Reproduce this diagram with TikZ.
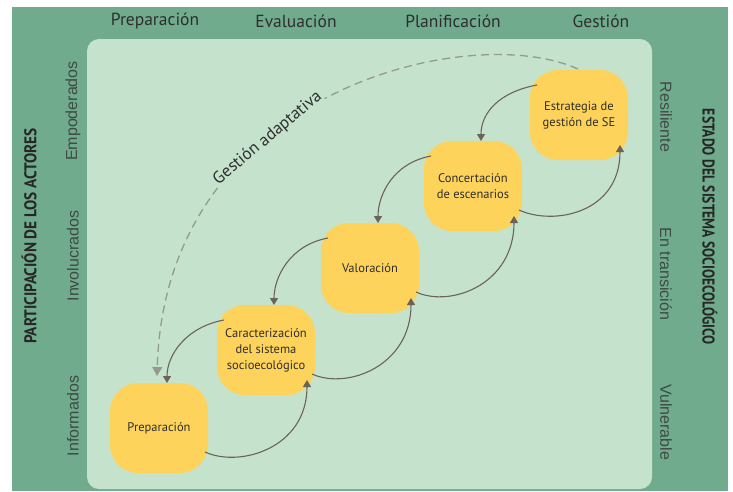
\documentclass[tikz,border=0pt]{standalone}
\usepackage{fontspec}
\setmainfont{PT Sans}
\newfontfamily\sidefont{Liberation Sans}
\usetikzlibrary{arrows.meta,calc}
\definecolor{framec}{HTML}{6FAB8C}
\definecolor{panelc}{HTML}{C5E3CC}
\definecolor{yellowc}{HTML}{FED35B}
\definecolor{arrowc}{HTML}{6B6357}
\definecolor{txtc}{HTML}{2E2E2E}
\definecolor{sidec}{HTML}{3E4A44}
\definecolor{dashc}{HTML}{929B8D}
\begin{document}
\begin{tikzpicture}[x=1pt,y=-1pt,
  stage/.style={fill=yellowc, rounded corners=28pt, minimum width=98pt, minimum height=90pt,
    align=center, font=\fontsize{12.5}{16}\selectfont, text=txtc, inner sep=2pt},
  flow/.style={draw=arrowc, line width=1.1pt, -{Triangle[width=8pt,length=7pt]}},
  adapt/.style={draw=dashc, line width=1.3pt, dash pattern=on 8pt off 5pt,
    -{Triangle[width=10pt,length=9pt,fill=dashc]}},
  toplab/.style={font=\fontsize{17.5}{20}\selectfont, text=txtc},
  sidelab/.style={font=\sidefont\fontsize{16}{19}\selectfont, text=sidec},
  headlab/.style={font=\bfseries\fontsize{17}{20}\selectfont, text=black!85},
]
\useasboundingbox (0,0) rectangle (733,491);
\fill[white] (0,0) rectangle (733,491);
\fill[framec] (12,7) rectangle (728,491);
\fill[panelc, rounded corners=12pt] (87,39) rectangle (652,489);

% top labels
\node[toplab] (tprep) at (155,21) {Preparación};
\node[toplab] (teval) at (296,21) {Evaluación};
\node[toplab] (tplan) at (453,21) {Planificación};
\node[toplab] (tgest) at (601,21) {Gestión};

% left labels
\node[headlab, rotate=90] (hpart) at (29,236) {\scalebox{0.9}[1]{PARTICIPACIÓN DE LOS ACTORES}};
\node[sidelab, rotate=90] (emp) at (73,111) {Empoderados};
\node[sidelab, rotate=90] (inv) at (73,256) {Involucrados};
\node[sidelab, rotate=90] (inf) at (73,416) {Informados};

% right labels
\node[sidelab, rotate=-90] (res) at (666,117) {Resiliente};
\node[sidelab, rotate=-90] (tra) at (666,274) {En transición};
\node[sidelab, rotate=-90] (vul) at (666,422) {Vulnerable};
\node[headlab, rotate=-90] (hest) at (710,227) {\scalebox{0.8}[1]{ESTADO DEL SISTEMA SOCIOECOLÓGICO}};

% stages
\node[stage] (prep) at (159,428) {Preparación};
\node[stage] (car) at (266,350) {Caracterización\\del sistema\\socioecológico};
\node[stage] (val) at (370,268) {Valoración};
\node[stage] (con) at (473,186) {Concertación\\de escenarios};
\node[stage] (est) at (579,115) {Estrategia de\\gestión de SE};

% adaptive management arc
\draw[adapt] ($(est)+(-1,-46)$) .. controls (470,20) and (165,90) .. ($(prep)+(-2,-52)$)
  node[pos=0.62, sloped, fill=panelc, inner sep=1pt, font=\fontsize{17}{20}\selectfont, text=txtc] (glab) {Gestión adaptativa};

% backward arrows
\foreach \u/\l in {est/con,con/val,val/car,car/prep}{
  \draw[flow] ($(\u)+(-42,-30)$) .. controls ($(\u)+(-80,-23)$) and ($(\l)+(8,-73)$) .. ($(\l)+(8,-45)$);
}
% forward arrows
\foreach \l/\u in {prep/car,car/val,val/con,con/est}{
  \draw[flow] ($(\l)+(46,24)$) .. controls ($(\l)+(81,40)$) and ($(\u)+(41,98)$) .. ($(\u)+(41,30)$);
}
\end{tikzpicture}
\end{document}
